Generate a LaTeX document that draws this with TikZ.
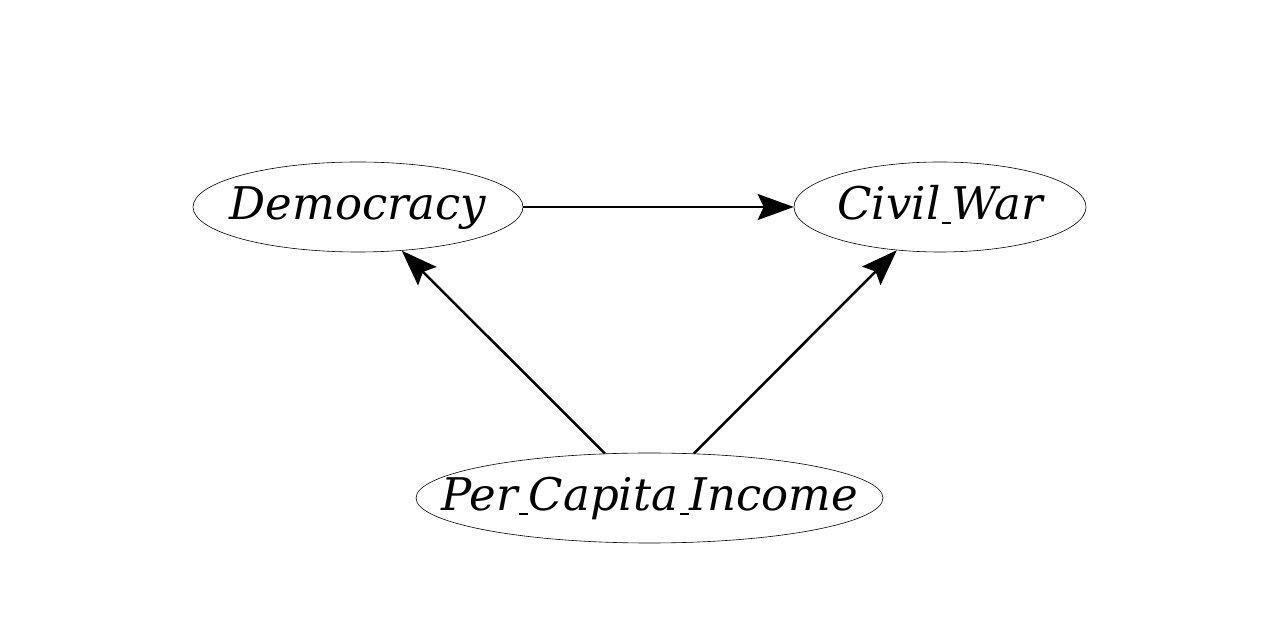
\documentclass[tikz,border=0pt]{standalone}
\usepackage{fontspec}
\setmainfont{DejaVu Serif}
\usetikzlibrary{shapes.geometric,arrows.meta}
\newcommand\usc{\kern0.04em\rule[-0.1em]{0.2em}{0.045em}\kern0.01em}
\tikzset{
  var/.style={ellipse, draw, line width=0.6pt, inner xsep=-60pt, inner ysep=0pt,
    text height=33pt, text depth=7pt,
    font=\fontsize{45}{52}\selectfont\itshape},
  edge/.style={line width=2.5pt, -{Stealth[length=36pt,width=26pt,inset=6pt]}}
}
\begin{document}
\begin{tikzpicture}[x=1pt,y=1pt]
\useasboundingbox (0,0) rectangle (1280,640);
\node[var, minimum width=330pt, minimum height=90pt] (dem) at (358,433) {Democracy};
\node[var, minimum width=292pt, minimum height=90pt] (cw) at (940,433) {Civil\usc War};
\node[var, minimum width=467pt, minimum height=90pt] (pci) at (649.5,142) {Per\usc Capita\usc Income};
\draw[edge] (dem) -- (cw);
\draw[edge] (pci) -- (dem);
\draw[edge] (pci) -- (cw);
\end{tikzpicture}
\end{document}
